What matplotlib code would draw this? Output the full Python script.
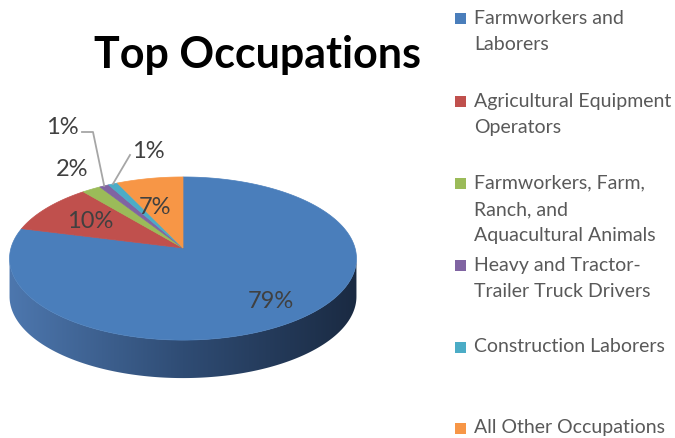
import numpy as np
import matplotlib
matplotlib.use("Agg")
import matplotlib.pyplot as plt
from matplotlib.patches import Polygon, Rectangle
from matplotlib.colors import LinearSegmentedColormap

# data
occupations = ["Farmworkers and\nLaborers",
               "Agricultural Equipment\nOperators",
               "Farmworkers, Farm,\nRanch, and\nAquacultural Animals",
               "Heavy and Tractor-\nTrailer Truck Drivers",
               "Construction Laborers",
               "All Other Occupations"]
shares = [79, 10, 2, 1, 1, 7]
pct_labels = ["79%", "10%", "2%", "1%", "1%", "7%"]
colors = ["#4a7ebb", "#c0504d", "#9bbb59", "#8064a2", "#4bacc6", "#f79646"]

# geometry of the fake 3d pie (pixel space)
CX, CY = 183, 248
R, RY = 172, 80.2
P = 0.129        # perspective
DEPTH = 38

def proj(t):
    u, v = np.sin(t), np.cos(t)
    d = 1 + P * v
    return CX + R * u / d, CY - RY * v / d

fig = plt.figure(figsize=(6.75, 4.38), dpi=100)
ax = fig.add_axes([0, 0, 1, 1])
ax.axis("off")

# side wall (front part, all blue) filled with a left->right gradient
t0 = np.arccos(-P)
ts = np.linspace(t0, 2 * np.pi - t0, 300)
top_edge = [proj(t) for t in ts]
bot_edge = [(x, y + DEPTH) for x, y in top_edge[::-1]]
side = Polygon(top_edge + bot_edge, closed=True, facecolor="none", edgecolor="none")
ax.add_patch(side)
side_cmap = LinearSegmentedColormap.from_list("side", ["#4d77ae", "#2f4c74", "#1a2a42"])
grad = np.linspace(0, 1, 256).reshape(1, -1)
im = ax.imshow(grad, cmap=side_cmap, aspect="auto",
               extent=(CX - R - 2, CX + R + 2, CY + RY + DEPTH + 20, CY - 20),
               interpolation="bilinear")
im.set_clip_path(side)
ax.set_xlim(0, 675)
ax.set_ylim(438, 0)

# top face
bounds = np.concatenate([[0], np.cumsum(shares)]) / sum(shares) * 2 * np.pi
for i in range(len(shares)):
    tt = np.linspace(bounds[i], bounds[i + 1], max(int(shares[i] * 4), 4))
    pts = [(CX, CY)] + [proj(t) for t in tt]
    ax.add_patch(Polygon(pts, closed=True, facecolor=colors[i], edgecolor=colors[i], lw=0.5))

# data labels
lab_font = dict(family="Lato", fontsize=17, color="#404040", ha="center", va="center")
lab_pos = [(271, 302), (90, 222), (72, 170), (62, 128), (148, 151), (155, 207)]
for i, txt in enumerate(pct_labels):
    ax.text(lab_pos[i][0], lab_pos[i][1], txt, **lab_font)

# leader lines for the two small slices
mid3 = proj((bounds[3] + bounds[4]) / 2)
mid4 = proj((bounds[4] + bounds[5]) / 2)
ax.plot([82, 93, mid3[0]], [132, 132, mid3[1]], color="#a6a6a6", lw=1.3)
ax.plot([130, mid4[0]], [155, mid4[1]], color="#a6a6a6", lw=1.3)

# title
ax.text(258, 55, "Top Occupations", family="Lato", fontweight="bold",
        fontsize=31, color="black", ha="center", va="center")

# legend
leg_y = [18, 101, 183, 265, 347, 428]
for i, name in enumerate(occupations):
    ax.add_patch(Rectangle((455, leg_y[i] - 5), 11, 11, facecolor=colors[i], edgecolor="none"))
    for k, line in enumerate(name.split("\n")):
        ax.text(474, leg_y[i] + k * 26.5, line, family="Lato", fontsize=14,
                color="#595959", ha="left", va="center")

fig.savefig("out.png", dpi=100)
